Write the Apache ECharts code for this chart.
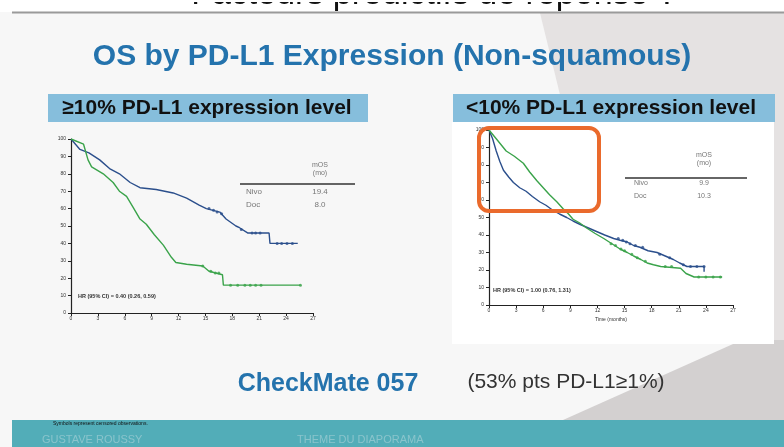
<!DOCTYPE html>
<html>
<head>
<meta charset="utf-8">
<script src="https://cdn.jsdelivr.net/npm/echarts@6/dist/echarts.min.js"></script>
<style>
html, body { margin: 0; padding: 0; background: #f7f7f7; }
#chart { width: 784px; height: 447px; }
</style>
</head>
<body>
<div id="chart"></div>
<script>
// axis ticks
var monthTicks = [0, 3, 6, 9, 12, 15, 18, 21, 24, 27];

// >=10% PD-L1 : [month, % alive]
var hiNivo = [[0,100],[0.5,97],[1,94],[2,92],[3.2,88],[4.3,83],[5.4,80],[6.6,75],[7.7,72],[9.5,71],[11.4,69],[12.9,66],[14.3,62],[15.1,60],[16.6,58],[17.3,54],[18.4,50],[18.8,49],[19.7,46],[22.1,46],[22.2,40],[25.3,40]];
var hiDoc = [[0,100],[1.4,97],[1.9,88],[2.3,84],[3.6,80],[4.7,75],[5.4,70],[6.2,67],[6.9,61],[7.7,54],[8.4,51],[9.3,45],[10.3,39],[11.2,32],[11.7,29],[12.9,28],[14.7,27],[15.4,24],[16.9,22],[17.0,16],[25.6,16]];
var hiNivoCens = [[15.4,60],[15.9,59],[16.3,58],[16.8,57],[19,48],[20.2,46],[20.6,46],[21.1,46],[23,40],[23.5,40],[24.1,40],[24.7,40]];
var hiDocCens = [[14.7,27],[15.6,24],[16.1,23],[16.5,23],[17.8,16],[18.6,16],[19.4,16],[20,16],[20.6,16],[21.2,16],[25.6,16]];

// <10% PD-L1
var loNivo = [[0,100],[0.4,95],[0.8,88],[1.2,82],[1.6,77],[2.2,73],[2.7,70],[3.4,67],[4.1,65],[4.8,62],[5.6,59],[6.3,57],[7.1,54],[7.8,52],[8.6,50],[9.3,48],[10.1,46],[11,44],[11.9,42],[12.8,40],[13.8,38],[14.5,37],[15.3,36],[16,34],[16.7,33],[17.6,31],[18.6,30],[19.5,28],[20.4,26],[21.1,24],[21.9,22],[23.8,22],[23.8,19]];
var loDoc = [[0,100],[0.8,95],[1.9,88],[2.8,85],[3.8,81],[4.5,76],[5.3,71],[6,67],[6.7,63],[7.5,59],[8.2,55],[8.8,52],[9.3,49],[10,47],[10.8,44],[11.7,41],[12.7,38],[13.6,35],[14.5,32],[15.3,30],[16,28],[16.8,26],[17.5,24],[18.2,23],[19,22],[21.2,21],[21.8,18],[22.7,16],[25.8,16]];
var loNivoCens = [[14.3,38],[14.8,37],[15.2,36],[15.6,35],[16.2,34],[17,33],[18.9,29],[20,27],[21.5,23],[22.3,22],[23,22],[23.8,22]];
var loDocCens = [[13.5,35],[14,34],[14.6,32],[15,31],[15.8,29],[16.4,27],[17.3,25],[19.5,22],[20.2,22],[23.2,16],[24,16],[24.8,16],[25.6,16]];

var NIVO = '#2b4f8c';
var DOC = '#3aa34a';
var FONT = 'Liberation Sans';

var chart = echarts.init(document.getElementById('chart'));

function xAx(idx, name){
    return {
        gridIndex: idx, type: 'value', min: 0, max: 27, interval: 3,
        name: name, nameLocation: 'middle', nameGap: 12,
        nameTextStyle: { fontSize: 5, color: '#333', fontFamily: FONT },
        axisLine: { lineStyle: { color: '#222', width: 1.2 } },
        axisTick: { length: 3, lineStyle: { color: '#222' } },
        axisLabel: { fontSize: 5, color: '#333', margin: 3, fontFamily: FONT,
            customValues: monthTicks },
        splitLine: { show: false }
    };
}
function yAx(idx){
    return {
        gridIndex: idx, type: 'value', min: 0, max: 100, interval: 10,
        axisLine: { show: true, lineStyle: { color: '#222', width: 1.2 } },
        axisTick: { show: true, length: 3, lineStyle: { color: '#222' } },
        axisLabel: { fontSize: 5, color: '#333', margin: 5, fontFamily: FONT },
        splitLine: { show: false }
    };
}
function curve(idx, data, color){
    return { type: 'line', xAxisIndex: idx, yAxisIndex: idx, data: data,
        symbol: 'none', lineStyle: { color: color, width: 1.4 }, animation: false };
}
function cens(idx, data, color){
    return { type: 'scatter', xAxisIndex: idx, yAxisIndex: idx, data: data,
        symbol: 'circle', symbolSize: 3, itemStyle: { color: color }, animation: false };
}

var option = {
    backgroundColor: '#f7f7f7',
    animation: false,
    grid: [
        { left: 71, right: 471, top: 139, bottom: 134 },
        { left: 489, right: 51, top: 130, bottom: 142 }
    ],
    xAxis: [xAx(0, ''), xAx(1, 'Time (months)')],
    yAxis: [yAx(0), yAx(1)],
    series: [
        curve(0, hiNivo, NIVO), curve(0, hiDoc, DOC),
        cens(0, hiNivoCens, NIVO), cens(0, hiDocCens, DOC),
        curve(1, loNivo, NIVO), curve(1, loDoc, DOC),
        cens(1, loNivoCens, NIVO), cens(1, loDocCens, DOC)
    ],
    graphic: [
        // slide decoration
        { type: 'rect', z: -20, shape: { x: 0, y: 0, width: 784, height: 12 }, style: { fill: '#ffffff' } },
        { type: 'polygon', z: -19, shape: { points: [[540,13],[784,13],[784,340],[620,340]] }, style: { fill: '#e5e2e2' } },
        { type: 'polygon', z: -18, shape: { points: [[563,420],[742,340],[784,340],[784,420]] }, style: { fill: '#d3d0d0' } },
        { type: 'text', z: -17, style: { text: 'Facteurs prédictifs de réponse ?', x: 434, y: 12,
            align: 'center', verticalAlign: 'bottom', font: '34px "Liberation Sans"', fill: '#111' } },
        { type: 'rect', z: -16, shape: { x: 0, y: 0, width: 784, height: 2 }, style: { fill: '#ffffff' } },
        { type: 'line', z: -15, shape: { x1: 12, y1: 12.5, x2: 784, y2: 12.5 }, style: { stroke: '#9a9a9a', lineWidth: 2 } },
        { type: 'text', style: { text: 'OS by PD-L1 Expression (Non-squamous)', x: 392, y: 57,
            align: 'center', verticalAlign: 'middle', font: 'bold 30px "Liberation Sans"', fill: '#2473ad' } },

        // panels and banners
        { type: 'rect', z: -10, shape: { x: 452, y: 122, width: 322, height: 222 }, style: { fill: '#ffffff' } },
        { type: 'rect', z: -9, shape: { x: 48, y: 94, width: 320, height: 28 }, style: { fill: '#86bedc' } },
        { type: 'rect', z: -9, shape: { x: 453, y: 94, width: 322, height: 28 }, style: { fill: '#86bedc' } },
        { type: 'text', style: { text: '≥10% PD-L1 expression level', x: 207, y: 108,
            align: 'center', verticalAlign: 'middle', font: 'bold 21px "Liberation Sans"', fill: '#111' } },
        { type: 'text', style: { text: '<10% PD-L1 expression level', x: 611, y: 108,
            align: 'center', verticalAlign: 'middle', font: 'bold 21px "Liberation Sans"', fill: '#111' } },

        // left mOS table
        { type: 'text', style: { text: 'mOS\n(mo)', x: 320, y: 169, align: 'center', verticalAlign: 'middle',
            font: '7px "Liberation Sans"', fill: '#777', lineHeight: 8 } },
        { type: 'line', shape: { x1: 240, y1: 184, x2: 355, y2: 184 }, style: { stroke: '#333', lineWidth: 1.3 } },
        { type: 'text', style: { text: 'Nivo', x: 246, y: 192, verticalAlign: 'middle', font: '8px "Liberation Sans"', fill: '#777' } },
        { type: 'text', style: { text: '19.4', x: 320, y: 192, align: 'center', verticalAlign: 'middle', font: '8px "Liberation Sans"', fill: '#777' } },
        { type: 'text', style: { text: 'Doc', x: 246, y: 205, verticalAlign: 'middle', font: '8px "Liberation Sans"', fill: '#777' } },
        { type: 'text', style: { text: '8.0', x: 320, y: 205, align: 'center', verticalAlign: 'middle', font: '8px "Liberation Sans"', fill: '#777' } },
        { type: 'text', style: { text: 'HR (95% CI) = 0.40 (0.26, 0.59)', x: 78, y: 296, verticalAlign: 'middle',
            font: 'bold 5.5px "Liberation Sans"', fill: '#333' } },

        // right mOS table
        { type: 'text', style: { text: 'mOS\n(mo)', x: 704, y: 159, align: 'center', verticalAlign: 'middle',
            font: '7px "Liberation Sans"', fill: '#777', lineHeight: 8 } },
        { type: 'line', shape: { x1: 625, y1: 178, x2: 747, y2: 178 }, style: { stroke: '#333', lineWidth: 1.3 } },
        { type: 'text', style: { text: 'Nivo', x: 634, y: 183, verticalAlign: 'middle', font: '7px "Liberation Sans"', fill: '#777' } },
        { type: 'text', style: { text: '9.9', x: 704, y: 183, align: 'center', verticalAlign: 'middle', font: '7px "Liberation Sans"', fill: '#777' } },
        { type: 'text', style: { text: 'Doc', x: 634, y: 196, verticalAlign: 'middle', font: '7px "Liberation Sans"', fill: '#777' } },
        { type: 'text', style: { text: '10.3', x: 704, y: 196, align: 'center', verticalAlign: 'middle', font: '7px "Liberation Sans"', fill: '#777' } },
        { type: 'text', style: { text: 'HR (95% CI) = 1.00 (0.76, 1.31)', x: 493, y: 290, verticalAlign: 'middle',
            font: 'bold 5.5px "Liberation Sans"', fill: '#333' } },

        // highlight box
        { type: 'rect', z: 10, shape: { x: 479, y: 128, width: 120, height: 83, r: 10 },
            style: { fill: 'none', stroke: '#ea6a2c', lineWidth: 4 } },

        // footer
        { type: 'text', style: { text: 'CheckMate 057', x: 328, y: 384, align: 'center', verticalAlign: 'middle',
            font: 'bold 25px "Liberation Sans"', fill: '#2473ad' } },
        { type: 'text', style: { text: '(53% pts PD-L1≥1%)', x: 566, y: 382, align: 'center', verticalAlign: 'middle',
            font: '21px "Liberation Sans"', fill: '#333' } },
        { type: 'rect', z: -5, shape: { x: 12, y: 420, width: 772, height: 27 }, style: { fill: '#52adb8' } },
        { type: 'text', style: { text: 'Symbols represent censored observations.', x: 53, y: 424, verticalAlign: 'middle',
            font: '5px "Liberation Sans"', fill: '#111' } },
        { type: 'text', style: { text: 'GUSTAVE ROUSSY', x: 42, y: 440, verticalAlign: 'middle',
            font: '11px "Liberation Sans"', fill: '#8ac4cc' } },
        { type: 'text', style: { text: 'THEME DU DIAPORAMA', x: 297, y: 440, verticalAlign: 'middle',
            font: '11px "Liberation Sans"', fill: '#8ac4cc' } }
    ]
};
chart.setOption(option);
</script>
</body>
</html>
